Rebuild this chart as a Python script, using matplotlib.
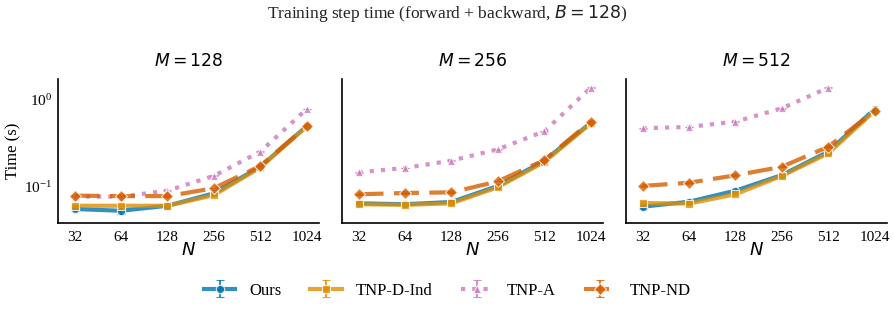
import numpy as np
import matplotlib
matplotlib.use("Agg")
import matplotlib.pyplot as plt

plt.rcParams['font.family'] = ['Liberation Serif', 'DejaVu Serif']
plt.rcParams['mathtext.fontset'] = 'dejavusans'

N_vals = [32, 64, 128, 256, 512, 1024]
M_vals = [128, 256, 512]
methods = ["Ours", "TNP-D-Ind", "TNP-A", "TNP-ND"]

# times (s) per method per M panel
ours = {
    128: [0.0556, 0.053, 0.0605, 0.084, 0.169, 0.495],
    256: [0.0645, 0.063, 0.0668, 0.102, 0.198, 0.54],
    512: [0.059, 0.0673, 0.090, 0.136, 0.252, 0.776],
}
tnp_d_ind = {
    128: [0.0605, 0.0605, 0.0605, 0.080, 0.166, 0.49],
    256: [0.063, 0.062, 0.0645, 0.0985, 0.192, 0.53],
    512: [0.065, 0.064, 0.082, 0.133, 0.241, 0.74],
}
tnp_a = {
    128: [0.077, 0.077, 0.090, 0.133, 0.252, 0.776],
    256: [0.146, 0.164, 0.199, 0.268, 0.431, 1.36],
    512: [0.467, 0.483, 0.556, 0.79, 1.36, np.nan],
}
tnp_nd = {
    128: [0.079, 0.078, 0.078, 0.096, 0.173, 0.495],
    256: [0.0818, 0.0847, 0.0862, 0.115, 0.202, 0.556],
    512: [0.102, 0.111, 0.135, 0.169, 0.287, 0.736],
}
# error bar half-widths (s)
ours_err = {
    128: [0.003, 0.004, 0.001, 0.001, 0.002, 0.005],
    256: [0.001, 0.001, 0.001, 0.001, 0.002, 0.005],
    512: [0.003, 0.001, 0.001, 0.001, 0.002, 0.005],
}
other_err = 0.01  # relative

series = [
    ("Ours", ours, "#0173b2", "o", "-"),
    ("TNP-D-Ind", tnp_d_ind, "#de8f05", "s", "-"),
    ("TNP-A", tnp_a, "#cc78bc", "^", (0, (1, 1.7))),
    ("TNP-ND", tnp_nd, "#d55e00", "D", (0, (6, 2.5))),
]

fig = plt.figure(figsize=(8.95, 3.09), dpi=100)
lefts = [58, 342, 626]
axes = []
for i, M in enumerate(M_vals):
    ax = fig.add_axes([lefts[i] / 895, (309 - 223) / 309, 261 / 895, 144 / 309],
                      sharey=axes[0] if axes else None)
    axes.append(ax)
    handles = []
    for name, data, color, marker, ls in series:
        y = np.array(data[M], dtype=float)
        if name == "Ours":
            err = np.array(ours_err[M])
        else:
            err = y * other_err
        h = ax.errorbar(N_vals, y, yerr=err, color=color, marker=marker, ls=ls,
                        lw=3, ms=6, mec="white", mew=0.8, alpha=0.8,
                        capsize=3, elinewidth=1.5, capthick=1.5, label=name)
        handles.append(h)
    ax.set_xscale("log", base=2)
    ax.set_yscale("log")
    ax.set_xticks(N_vals)
    ax.set_xticklabels([str(n) for n in N_vals])
    ax.minorticks_off()
    ax.set_xlim(32 / 1.28, 1024 * 1.2)
    ax.set_ylim(0.0384, 1.71)
    ax.set_title(f"$M = {M}$", fontsize=12.3, pad=9)
    ax.set_xlabel("$N$", fontsize=13, labelpad=-2)
    for s in ["top", "right"]:
        ax.spines[s].set_visible(False)
    ax.tick_params(axis="both", labelsize=11, length=0)
    ax.tick_params(axis="x", pad=6)
    ax.tick_params(axis="y", pad=4)
    if i > 0:
        ax.tick_params(axis="y", labelleft=False)
    for s in ["left", "bottom"]:
        ax.spines[s].set_linewidth(1.2)

axes[0].set_ylabel("Time (s)", fontsize=12, labelpad=2)
axes[0].yaxis.set_minor_locator(matplotlib.ticker.NullLocator())

fig.suptitle("Training step time (forward + backward, $B = 128$)", fontsize=12.5, y=0.99,
             color="#222222")
fig.legend(handles, methods, loc="lower center", ncol=4, frameon=False,
           bbox_to_anchor=(0.5, -0.015), fontsize=12, handlelength=1.9,
           handletextpad=0.85, columnspacing=1.7)

fig.savefig("out.png", dpi=100)
